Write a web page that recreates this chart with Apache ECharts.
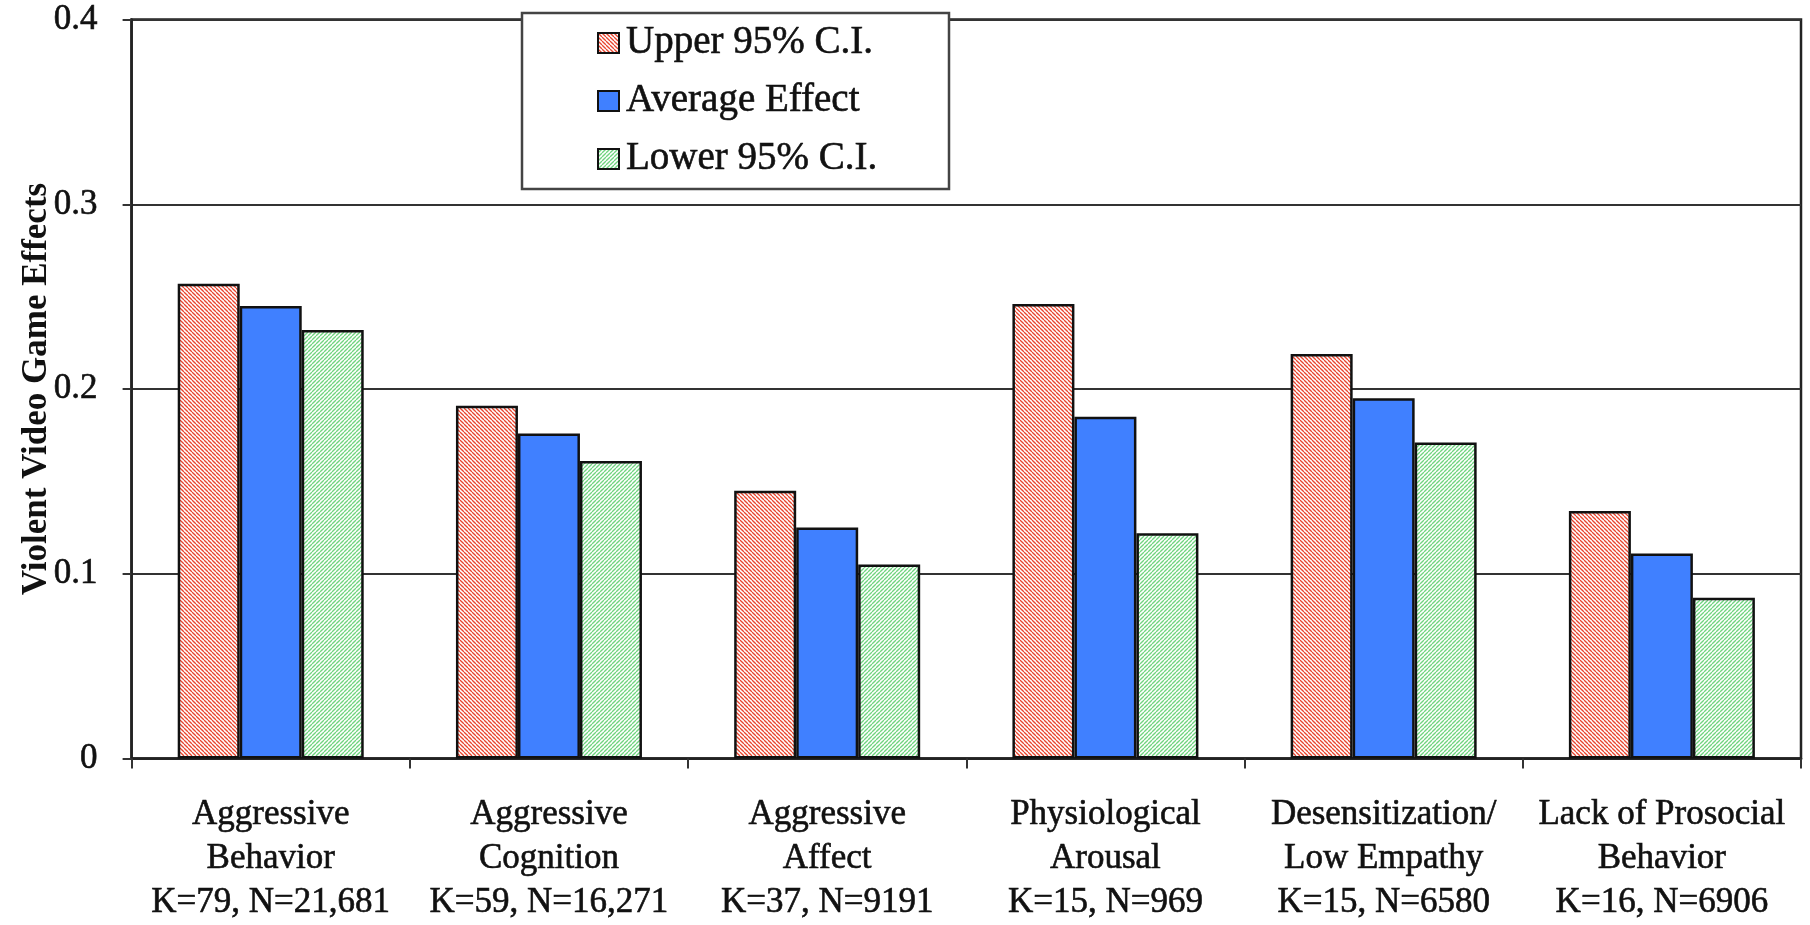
<!DOCTYPE html>
<html>
<head>
<meta charset="utf-8">
<script src="https://cdn.jsdelivr.net/npm/echarts@6/dist/echarts.min.js"></script>
<style>
  html, body { margin: 0; padding: 0; background: #fff; }
  #chart { width: 1810px; height: 925px; }
</style>
</head>
<body>
<div id="chart"></div>
<script>
// data
const categories = [
    'Aggressive\nBehavior\nK=79, N=21,681',
    'Aggressive\nCognition\nK=59, N=16,271',
    'Aggressive\nAffect\nK=37, N=9191',
    'Physiological\nArousal\nK=15, N=969',
    'Desensitization/\nLow Empathy\nK=15, N=6580',
    'Lack of Prosocial\nBehavior\nK=16, N=6906'
];
const upperCI = [0.257, 0.191, 0.145, 0.246, 0.219, 0.134];
const averageEffect = [0.245, 0.176, 0.125, 0.185, 0.195, 0.111];
const lowerCI = [0.232, 0.161, 0.105, 0.122, 0.171, 0.087];
const seriesNames = ['Upper 95% C.I.', 'Average Effect', 'Lower 95% C.I.'];
const yTicks = [0, 0.1, 0.2, 0.3, 0.4];

const FONT = '"Liberation Serif", "Times New Roman", serif';
// the scan is a bit heavy, thicken glyphs slightly
const INK = { color: '#111', textBorderColor: '#111', textBorderWidth: 0.6 };

// diagonal hatch tile, dir 1 = "\" , dir -1 = "/"
function hatch(color, dir) {
    const s = 4;
    const c = document.createElement('canvas');
    c.width = s; c.height = s;
    const ctx = c.getContext('2d');
    ctx.fillStyle = '#fff';
    ctx.fillRect(0, 0, s, s);
    ctx.strokeStyle = color;
    ctx.lineWidth = 1.3;
    for (const k of [-s, 0, s]) {
        ctx.beginPath();
        if (dir > 0) { ctx.moveTo(k, 0); ctx.lineTo(k + s, s); }
        else { ctx.moveTo(k, s); ctx.lineTo(k + s, 0); }
        ctx.stroke();
    }
    return { image: c, repeat: 'repeat' };
}

const barStyle = (color) => ({ color, borderColor: '#111', borderWidth: 2.5 });

const chart = echarts.init(document.getElementById('chart'), null, { renderer: 'canvas' });

chart.setOption({
    backgroundColor: '#fff',
    animation: false,
    grid: {
        left: 131.6, right: 9, top: 19.6, bottom: 166.5, outerBoundsMode: 'none',
        show: true, borderColor: '#222', borderWidth: 2.5, backgroundColor: 'transparent'
    },
    graphic: [{
        type: 'rect', z: 100,
        shape: { x: 522, y: 13, width: 427, height: 176 },
        style: { fill: '#fff', stroke: '#444', lineWidth: 2.5 }
    }],
    legend: {
        data: seriesNames, orient: 'vertical', left: 597, top: 23, z: 110,
        padding: 0, itemWidth: 21, itemHeight: 20, itemGap: 18, icon: 'rect',
        textStyle: { fontFamily: FONT, fontSize: 39, lineHeight: 40, padding: [0, 0, 0, 2], ...INK }
    },
    xAxis: {
        type: 'category', data: categories,
        axisLine: { lineStyle: { color: '#222', width: 2.5 } },
        axisTick: { show: true, length: 10, lineStyle: { color: '#333', width: 2 } },
        axisLabel: { fontFamily: FONT, fontSize: 35, lineHeight: 44, margin: 34, interval: 0, ...INK }
    },
    yAxis: {
        type: 'value', min: 0, max: 0.4, interval: 0.1,
        name: 'Violent Video Game Effects', nameLocation: 'middle', nameGap: 77, nameRotate: 90,
        nameMoveOverlap: false,
        nameTextStyle: { fontFamily: FONT, fontSize: 35, fontWeight: 'bold', color: '#111' },
        axisLine: { show: true, lineStyle: { color: '#222', width: 2.5 } },
        axisTick: { show: true, length: 9, lineStyle: { color: '#333', width: 2 } },
        axisLabel: {
            fontFamily: FONT, fontSize: 35, margin: 34, ...INK,
            formatter: v => yTicks.includes(+v.toFixed(1)) ? (v === 0 ? '0' : v.toFixed(1)) : ''
        },
        splitLine: { show: true, lineStyle: { color: '#333', width: 2 } }
    },
    series: [
        { name: seriesNames[0], type: 'bar', data: upperCI, barWidth: 62, barGap: '0%', itemStyle: barStyle(hatch('#e8452f', 1)) },
        { name: seriesNames[1], type: 'bar', data: averageEffect, barWidth: 62, barGap: '0%', itemStyle: barStyle('#4080ff') },
        { name: seriesNames[2], type: 'bar', data: lowerCI, barWidth: 62, barGap: '0%', itemStyle: barStyle(hatch('#6fd47f', -1)) }
    ]
});
</script>
</body>
</html>
